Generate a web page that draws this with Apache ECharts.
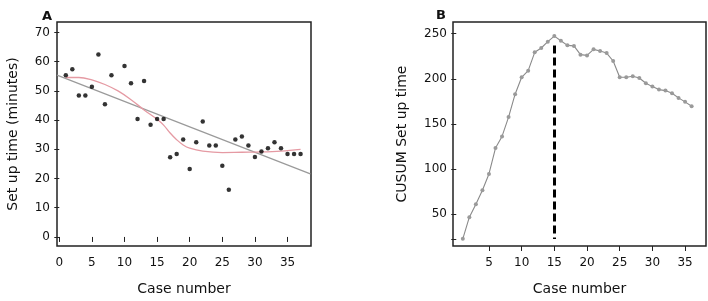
<!DOCTYPE html>
<html>
<head>
<meta charset="utf-8">
<script src="https://cdn.jsdelivr.net/npm/echarts@6/dist/echarts.min.js"></script>
<style>
    html, body { margin: 0; padding: 0; background: #fff; }
    #chart { width: 708px; height: 301px; }
</style>
</head>
<body>
<div id="chart"></div>
<script>
// panel A: raw set up times (case 9 is missing in the source)
var caseNumbers = [1, 2, 3, 4, 5, 6, 7, 8, 10, 11, 12, 13, 14, 15, 16, 17, 18, 19, 20, 21, 22, 23, 24, 25, 26, 27, 28, 29, 30, 31, 32, 33, 34, 35, 36, 37]
var setupTimes = [55.4, 57.4, 48.4, 48.4, 51.4, 62.5, 45.4, 55.4, 58.5, 52.6, 40.4, 53.4, 38.4, 40.4, 40.4, 27.3, 28.4, 33.4, 23.3, 32.4, 39.5, 31.3, 31.3, 24.4, 16.2, 33.4, 34.4, 31.3, 27.4, 29.3, 30.4, 32.4, 30.4, 28.4, 28.4, 28.4]
// smoothed curve (pink)
var smoothX = [1, 3, 5, 7, 9, 11, 13, 15, 16, 17, 18, 19, 20, 22, 25, 28, 31, 34, 37]
var smoothY = [54.6, 54.6, 53.8, 52.2, 50.0, 47.0, 43.5, 40.3, 38.3, 35.6, 33.3, 31.5, 30.4, 29.4, 28.9, 29.0, 29.1, 29.4, 30.0]
// linear fit (grey), ends at the frame edges
var fitX = [-0.35, 38.5]
var fitY = [55.4, 21.6]
var ticksA_x = [0, 5, 10, 15, 20, 25, 30, 35]
var ticksA_y = [0, 10, 20, 30, 40, 50, 60, 70]

// panel B: CUSUM
var cusumCases = [1, 2, 3, 4, 5, 6, 7, 8, 9, 10, 11, 12, 13, 14, 15, 16, 17, 18, 19, 20, 21, 22, 23, 24, 25, 26, 27, 28, 29, 30, 31, 32, 33, 34, 35, 36]
var cusumValues = [22.7, 46.7, 61, 76.5, 94.6, 123.3, 136.2, 157.6, 183, 201.7, 209.1, 229.4, 234.2, 241.2, 247.4, 242.3, 237.1, 236.5, 226.8, 226, 232.7, 230.8, 228.6, 219.8, 201.7, 201.7, 202.9, 201, 195.1, 191.4, 188.1, 187, 184, 178.9, 174.5, 169.7]
var changeCase = 15
var changeSpan = [237, 22.5]
var ticksB_x = [5, 10, 15, 20, 25, 30, 35]
var ticksB_y = [22.7, 50, 100, 150, 200, 250]
var labelsB_y = [50, 100, 150, 200, 250]

var font = 'DejaVu Sans'
var textColor = '#111'

function zip(xs, ys) {
    return xs.map(function (x, i) { return [x, ys[i]] })
}

function axisBase(tickVals, labelVals, margin) {
    return {
        axisLine: { show: false },
        axisTick: { show: true, inside: false, length: 5, customValues: tickVals, lineStyle: { color: '#222', width: 1 } },
        axisLabel: { customValues: labelVals, margin: margin, color: textColor, fontFamily: font, fontSize: 12 },
        splitLine: { show: false },
        nameLocation: 'middle',
        nameTextStyle: { color: textColor, fontFamily: font, fontSize: 14 }
    }
}

var option = {
    backgroundColor: '#fff',
    animation: false,
    title: [
        { text: 'A', left: 37, top: 5, textStyle: { fontFamily: font, fontSize: 13, fontWeight: 'bold', color: textColor } },
        { text: 'B', left: 431, top: 4, textStyle: { fontFamily: font, fontSize: 13, fontWeight: 'bold', color: textColor } }
    ],
    grid: [
        { left: 57, top: 22, width: 254, height: 228, show: true, borderColor: '#222', borderWidth: 1.5, backgroundColor: '#fff' },
        { left: 453, top: 22, width: 253, height: 226, show: true, borderColor: '#222', borderWidth: 1.5, backgroundColor: '#fff' }
    ],
    xAxis: [
        Object.assign(axisBase(ticksA_x, ticksA_x, 11), {
            type: 'value', gridIndex: 0, min: -0.35, max: 38.6,
            name: 'Case number', nameGap: 36
        }),
        Object.assign(axisBase(ticksB_x, ticksB_x, 11), {
            type: 'value', gridIndex: 1, min: -0.5, max: 38.2,
            name: 'Case number', nameGap: 36
        })
    ],
    yAxis: [
        Object.assign(axisBase(ticksA_y, ticksA_y, 7), {
            type: 'value', gridIndex: 0, min: -3.1, max: 73.6,
            name: 'Set up time (minutes)', nameGap: 37
        }),
        Object.assign(axisBase(ticksB_y, labelsB_y, 6), {
            type: 'value', gridIndex: 1, min: 14.8, max: 263,
            name: 'CUSUM Set up time', nameGap: 44
        })
    ],
    series: [
        {
            type: 'line',
            xAxisIndex: 0, yAxisIndex: 0,
            data: zip(fitX, fitY),
            showSymbol: false,
            lineStyle: { color: '#9a9a9a', width: 1.2 },
            z: 2
        },
        {
            type: 'line',
            xAxisIndex: 0, yAxisIndex: 0,
            data: zip(smoothX, smoothY),
            smooth: 0.4,
            showSymbol: false,
            lineStyle: { color: '#e59aa3', width: 1.3 },
            z: 3
        },
        {
            type: 'scatter',
            xAxisIndex: 0, yAxisIndex: 0,
            data: zip(caseNumbers, setupTimes),
            symbolSize: 4.5,
            itemStyle: { color: '#000' },
            z: 4
        },
        {
            type: 'line',
            xAxisIndex: 1, yAxisIndex: 1,
            data: zip(cusumCases, cusumValues),
            symbol: 'circle',
            symbolSize: 4,
            itemStyle: { color: '#9a9a9a' },
            lineStyle: { color: '#8a8a8a', width: 1.1 },
            markLine: {
                silent: true,
                symbol: 'none',
                label: { show: false },
                lineStyle: { color: '#000', width: 3, type: [8, 4] },
                data: [[
                    { coord: [changeCase, changeSpan[0]] },
                    { coord: [changeCase, changeSpan[1]] }
                ]]
            }
        }
    ]
}

var myChart = echarts.init(document.getElementById('chart'))
myChart.setOption(option)
</script>
</body>
</html>
